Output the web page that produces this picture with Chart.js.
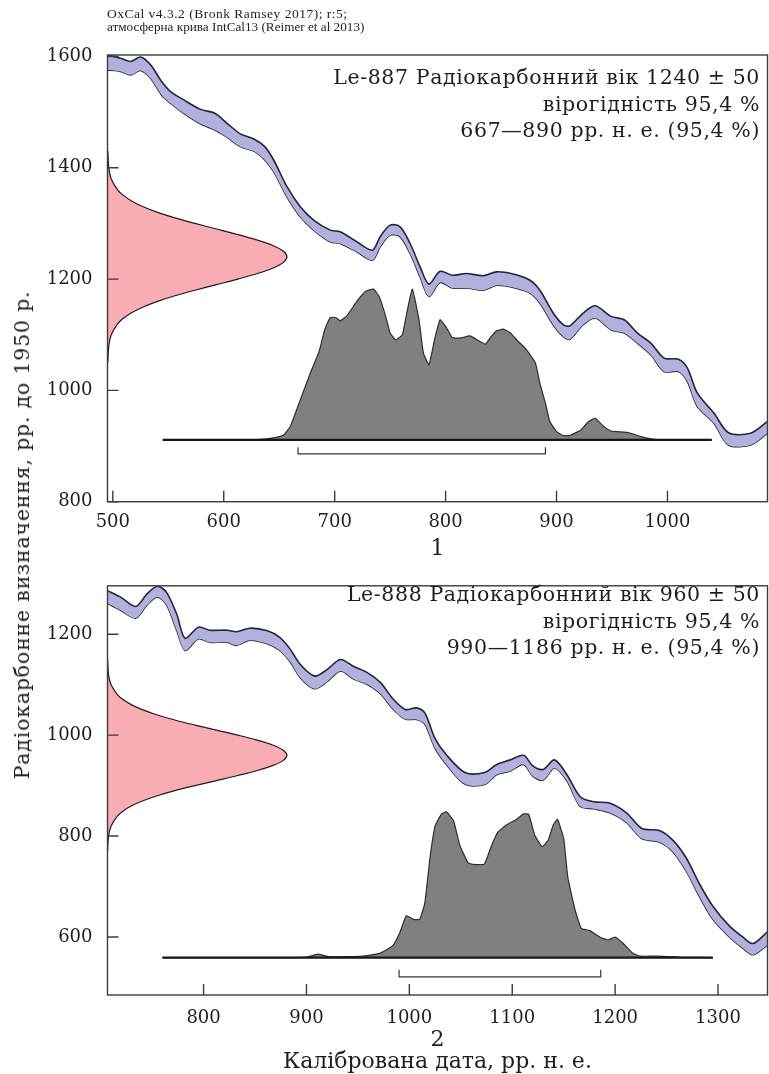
<!DOCTYPE html>
<html>
<head>
<meta charset="utf-8">
<script src="https://cdn.jsdelivr.net/npm/chart.js@4.4.1/dist/chart.umd.min.js"></script>
<style>
html,body{margin:0;padding:0;background:#fff;}
body{width:769px;height:1074px;position:relative;overflow:hidden;color:#1e1e1e;font-family:"DejaVu Serif",serif;}
canvas{position:absolute;left:0;}
#c1{top:0;}
#c2{top:560px;}
.hdr{position:absolute;left:107px;font-family:"Liberation Serif",serif;line-height:13px;white-space:nowrap;}
#h1{top:7px;font-size:13.5px;letter-spacing:0.5px;}
#h2{top:20px;font-size:13.2px;}
.ann{position:absolute;right:9px;text-align:right;font-size:20.5px;letter-spacing:0.6px;line-height:26.5px;white-space:nowrap;}
#ytitle{position:absolute;left:22px;top:535px;transform:translate(-50%,-50%) rotate(-90deg);font-size:20.5px;letter-spacing:0.8px;white-space:nowrap;}
</style>
</head>
<body>
<canvas id="c1" width="769" height="560"></canvas>
<canvas id="c2" width="769" height="514"></canvas>
<div class="hdr" id="h1">OxCal v4.3.2 (Bronk Ramsey 2017); r:5;</div>
<div class="hdr" id="h2">атмосферна крива IntCal13 (Reimer et al 2013)</div>
<div class="ann" id="ann1" style="top:64px"></div>
<div class="ann" id="ann2" style="top:581px"></div>
<div id="ytitle">Радіокарбонне визначення, рр. до 1950 р.</div>
<script>
// ---------- Panel 1: Le-887 ----------
const sample1 = 'Le-887';
const age1 = 1240, err1 = 50;
const range1 = [667, 890];
const xTicks1 = [500, 600, 700, 800, 900, 1000];
const yTicks1 = [800, 1000, 1200, 1400, 1600];
const calYears1 = [495,507,516,525,534,544,552,564,579,592,603,615,628,637,645,657,669,681,696,705,720,734,741,750,759,768,777,785,795,806,819,834,846,861,876,885,897,906,912,924,935,949,961,973,985,997,1010,1018,1027,1042,1055,1075,1090];
const curveHi1 = [1603,1597,1591,1599,1585,1555,1537,1522,1505,1498,1480,1461,1451,1438,1414,1366,1330,1306,1288,1285,1267,1252,1276,1297,1294,1264,1222,1191,1214,1207,1210,1206,1213,1209,1198,1180,1139,1118,1116,1139,1152,1133,1127,1103,1085,1058,1056,1040,995,959,924,923,944];
const curveLo1 = [1576,1573,1567,1575,1561,1531,1516,1498,1479,1468,1455,1438,1429,1414,1393,1348,1312,1288,1267,1264,1249,1234,1258,1279,1276,1246,1204,1169,1194,1184,1184,1180,1189,1185,1175,1157,1118,1097,1092,1118,1130,1109,1103,1085,1064,1034,1034,1016,971,941,902,902,923];
const distYears1 = [545,620,639,648,654,660,669,678,686,691,696,701,705,711,720,728,735,740,746,750,755,761,765,770,776,780,785,790,795,801,806,813,822,830,836,840,846,852,858,864,873,881,885,890,894,900,906,912,922,929,935,941,949,961,967,976,985,994,1040];
const distVals1 = [911,911,913,916,920,935,983,1031,1070,1109,1131,1131,1125,1134,1160,1178,1182,1169,1133,1103,1091,1100,1139,1182,1127,1067,1046,1091,1127,1112,1095,1094,1098,1089,1083,1094,1107,1110,1104,1091,1073,1049,1013,977,944,926,919,919,929,944,950,938,927,925,923,917,913,911,911];
const baseline1 = 911, baseSpan1 = [545, 1040];
const bracketLevels1 = [898, 886];
const pinkAges1 = [1430,1400,1380,1360,1350,1340,1330,1320,1310,1300,1290,1280,1270,1260,1250,1240,1230,1220,1210,1200,1190,1180,1170,1160,1150,1140,1130,1120,1100,1080,1050];
const pinkExt1 = [495.5,496.4,498.6,504.5,509.8,517.3,527.4,540.3,556,574.1,593.5,612.7,630.4,644.6,653.8,657,653.8,644.6,630.4,612.7,593.5,574.1,556,540.3,527.4,517.3,509.8,504.5,498.6,496.4,495.5];

// ---------- Panel 2: Le-888 ----------
const sample2 = 'Le-888';
const age2 = 960, err2 = 50;
const range2 = [990, 1186];
const xTicks2 = [800, 900, 1000, 1100, 1200, 1300];
const yTicks2 = [600, 800, 1000, 1200];
const calYears2 = [707,719,734,745,755,764,774,782,795,806,823,832,845,862,874,884,894,908,920,933,946,959,972,984,996,1007,1015,1025,1036,1054,1073,1085,1098,1111,1120,1130,1141,1153,1166,1179,1195,1211,1226,1243,1256,1269,1282,1295,1311,1324,1334,1348];
const curveHi2 = [1286,1274,1255,1280,1295,1283,1239,1192,1214,1208,1208,1205,1212,1207,1194,1171,1140,1117,1130,1150,1136,1124,1104,1072,1051,1054,1044,993,961,926,926,942,951,960,939,932,951,922,878,868,865,846,815,811,792,757,705,661,622,600,587,610];
const curveLo2 = [1261,1248,1232,1258,1274,1258,1207,1168,1191,1184,1184,1178,1188,1181,1168,1146,1114,1092,1106,1127,1111,1101,1082,1052,1032,1031,1022,974,942,903,902,922,929,942,919,911,935,910,859,854,846,827,795,788,769,731,680,635,600,578,565,584];
const distYears2 = [760,880,900,911,922,940,955,965,972,984,991,997,1004,1010,1015,1020,1025,1031,1036,1043,1049,1057,1062,1073,1080,1086,1095,1104,1111,1116,1122,1129,1135,1140,1144,1150,1154,1161,1167,1175,1185,1193,1200,1208,1217,1224,1240,1263,1295];
const distVals2 = [559,559,560,566,561,561,562,565,568,583,610,642,635,635,667,756,820,843,848,830,782,747,744,745,782,808,823,833,844,843,801,779,792,823,833,795,718,654,617,613,600,594,600,587,568,562,562,560,559];
const baseline2 = 559, baseSpan2 = [760, 1295];
const bracketLevels2 = [535, 521];
const pinkAges2 = [1150,1120,1100,1080,1070,1060,1050,1040,1030,1020,1010,1000,990,980,970,960,950,940,930,920,910,900,890,880,870,860,850,840,820,800,770];
const pinkExt2 = [706.7,707.6,710.1,716.4,722.1,730.1,741.1,755.1,772,791.6,812.5,833.2,852.2,867.6,877.5,881,877.5,867.6,852.2,833.2,812.5,791.6,772,755.1,741.1,730.1,722.1,716.4,710.1,707.6,706.7];
const probLabel = 'вірогідність 95,4 %';

// ---------- helpers ----------
const pts = (xs, ys) => xs.map((x, i) => ({x: x, y: ys[i]}));
const FONT = "'DejaVu Serif', serif";
const INK = '#1e1e1e';

const framePlugin = {
  id: 'frame',
  afterDatasetsDraw(chart) {
    const {ctx, chartArea: a, scales: {x, y}} = chart;
    ctx.save();
    ctx.strokeStyle = '#3c3c3c';
    ctx.lineWidth = 1.4;
    ctx.beginPath();
    for (const t of x.ticks) {
      const px = x.getPixelForValue(t.value);
      ctx.moveTo(px, a.bottom); ctx.lineTo(px, a.bottom - 11);
    }
    for (const t of y.ticks) {
      const py = y.getPixelForValue(t.value);
      ctx.moveTo(a.left, py); ctx.lineTo(a.left + 11, py);
    }
    ctx.stroke();
    ctx.strokeRect(a.left, a.top, a.right - a.left, a.bottom - a.top);
    ctx.restore();
  }
};

function makePanel(id, d) {
  const bracket = [
    {x: d.range[0], y: d.brk[0]}, {x: d.range[0], y: d.brk[1]},
    {x: d.range[1], y: d.brk[1]}, {x: d.range[1], y: d.brk[0]}
  ];
  return new Chart(document.getElementById(id), {
    type: 'line',
    data: {
      datasets: [
        {data: pts(d.calYears, d.hi), fill: '+1', backgroundColor: '#b1b1dc', borderColor: '#24243c', borderWidth: 1.6, tension: 0.3},
        {data: pts(d.calYears, d.lo), fill: false, borderColor: '#24243c', borderWidth: 1.6, tension: 0.3},
        {data: pts(d.pinkExt, d.pinkAges), fill: 'shape', backgroundColor: '#f7adb3', borderColor: '#2a1818', borderWidth: 1.2, tension: 0.35},
        {data: bracket, fill: false, borderColor: '#333', borderWidth: 1.2, tension: 0},
        {data: [{x: d.baseSpan[0], y: d.baseline}, {x: d.baseSpan[1], y: d.baseline}], fill: false, borderColor: '#151515', borderWidth: 2.2},
        {data: pts(d.distYears, d.distVals), fill: {value: d.baseline}, backgroundColor: '#808080', borderColor: '#2e2e2e', borderWidth: 1.2, tension: 0.12}
      ]
    },
    options: {
      responsive: false,
      animation: false,
      events: [],
      layout: {padding: {left: 0, right: 1.5, top: d.padTop, bottom: 0}},
      plugins: {legend: {display: false}, tooltip: {enabled: false}},
      elements: {point: {radius: 0}},
      scales: {
        x: {
          type: 'linear', min: d.xMin, max: d.xMax,
          grid: {display: false, drawTicks: false}, border: {display: false},
          afterBuildTicks: s => { s.ticks = d.xTicks.map(v => ({value: v})); },
          afterFit: s => { s.height = d.xAxisH; },
          ticks: {font: {family: FONT, size: 18}, color: INK, padding: d.xTickPad, maxRotation: 0, autoSkip: false, callback: v => String(v)},
          title: {display: true, text: d.xTitle, color: INK, font: {family: FONT, size: 22, lineHeight: 1.0}, padding: {top: 0, bottom: d.xTitlePad}}
        },
        y: {
          type: 'linear', min: d.yMin, max: d.yMax,
          grid: {display: false, drawTicks: false}, border: {display: false},
          afterBuildTicks: s => { s.ticks = d.yTicks.map(v => ({value: v})); },
          afterFit: s => { s.width = 107.5; },
          ticks: {font: {family: FONT, size: 18}, color: INK, padding: 15, autoSkip: false, callback: v => String(v)}
        }
      }
    },
    plugins: [framePlugin]
  });
}

makePanel('c1', {
  calYears: calYears1, hi: curveHi1, lo: curveLo1,
  distYears: distYears1, distVals: distVals1, baseline: baseline1, baseSpan: baseSpan1,
  pinkAges: pinkAges1, pinkExt: pinkExt1, range: range1, brk: bracketLevels1,
  xTicks: xTicks1, yTicks: yTicks1, xMin: 495.2, xMax: 1090.2, yMin: 800, yMax: 1602.7,
  padTop: 55, xAxisH: 58.3, xTickPad: 9.5, xTitle: '1', xTitlePad: 0
});
makePanel('c2', {
  calYears: calYears2, hi: curveHi2, lo: curveLo2,
  distYears: distYears2, distVals: distVals2, baseline: baseline2, baseSpan: baseSpan2,
  pinkAges: pinkAges2, pinkExt: pinkExt2, range: range2, brk: bracketLevels2,
  xTicks: xTicks2, yTicks: yTicks2, xMin: 706.6, xMax: 1348.1, yMin: 485, yMax: 1296,
  padTop: 11.7, xAxisH: 79, xTickPad: 12.2, xTitle: ['2', 'Калібрована дата, рр. н. е.'], xTitlePad: 1
});

function annText(sample, age, err, range) {
  return sample + ' Радіокарбонний вік ' + age + ' ± ' + err + '<br>' + probLabel + '<br>' +
    range[0] + '—' + range[1] + ' рр. н. е. (95,4 %)';
}
document.getElementById('ann1').innerHTML = annText(sample1, age1, err1, range1);
document.getElementById('ann2').innerHTML = annText(sample2, age2, err2, range2);
</script>
</body>
</html>
